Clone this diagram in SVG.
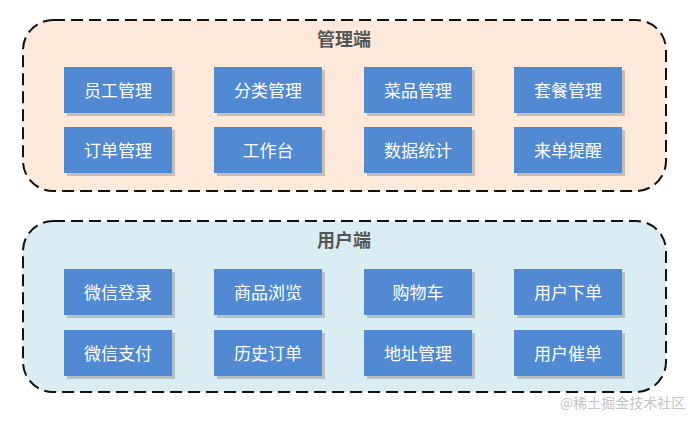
<svg xmlns="http://www.w3.org/2000/svg" width="695" height="422" viewBox="0 0 695 422">
<style>
.grp{stroke:#111;stroke-width:2;stroke-dasharray:12,6}
.box{fill:#5189d3}
.sh{fill:#8a8a8a;opacity:0.45}
.t{font-family:"Noto Sans CJK SC","Liberation Serif",serif;font-size:17px;fill:#fff;text-anchor:middle;dominant-baseline:central}
.h{font-family:"Noto Sans CJK SC","Liberation Serif",serif;font-size:18px;font-weight:bold;fill:#555;text-anchor:middle}
.wm{font-family:"Noto Sans CJK SC","Liberation Sans",sans-serif;font-size:14px;fill:#c4c4c4}
</style>
<rect width="695" height="422" fill="#fff"/>
<g id="admin">
<rect class="grp" x="23" y="20" width="643" height="171" rx="30" fill="#fce9da"/>
<text class="h" x="344" y="46">管理端</text>
</g>
<g id="user">
<rect class="grp" x="23" y="221" width="643" height="171" rx="30" fill="#daedf2"/>
<text class="h" x="344" y="247">用户端</text>
</g>
<defs>
<g id="b"><rect class="sh" x="3" y="3" width="108" height="46"/><rect class="box" width="108" height="46"/></g>
</defs>
<g id="n1"><use href="#b" x="64" y="67"/><text class="t" x="118" y="89">员工管理</text></g>
<g id="n2"><use href="#b" x="214" y="67"/><text class="t" x="268" y="89">分类管理</text></g>
<g id="n3"><use href="#b" x="364" y="67"/><text class="t" x="418" y="89">菜品管理</text></g>
<g id="n4"><use href="#b" x="514" y="67"/><text class="t" x="568" y="89">套餐管理</text></g>
<g id="n5"><use href="#b" x="64" y="127"/><text class="t" x="118" y="149">订单管理</text></g>
<g id="n6"><use href="#b" x="214" y="127"/><text class="t" x="268" y="149">工作台</text></g>
<g id="n7"><use href="#b" x="364" y="127"/><text class="t" x="418" y="149">数据统计</text></g>
<g id="n8"><use href="#b" x="514" y="127"/><text class="t" x="568" y="149">来单提醒</text></g>
<g id="n9"><use href="#b" x="64" y="269"/><text class="t" x="118" y="291">微信登录</text></g>
<g id="n10"><use href="#b" x="214" y="269"/><text class="t" x="268" y="291">商品浏览</text></g>
<g id="n11"><use href="#b" x="364" y="269"/><text class="t" x="418" y="291">购物车</text></g>
<g id="n12"><use href="#b" x="514" y="269"/><text class="t" x="568" y="291">用户下单</text></g>
<g id="n13"><use href="#b" x="64" y="330"/><text class="t" x="118" y="352">微信支付</text></g>
<g id="n14"><use href="#b" x="214" y="330"/><text class="t" x="268" y="352">历史订单</text></g>
<g id="n15"><use href="#b" x="364" y="330"/><text class="t" x="418" y="352">地址管理</text></g>
<g id="n16"><use href="#b" x="514" y="330"/><text class="t" x="568" y="352">用户催单</text></g>
<g id="connectors"></g>
<text class="wm" x="560" y="408">@稀土掘金技术社区</text>
</svg>
